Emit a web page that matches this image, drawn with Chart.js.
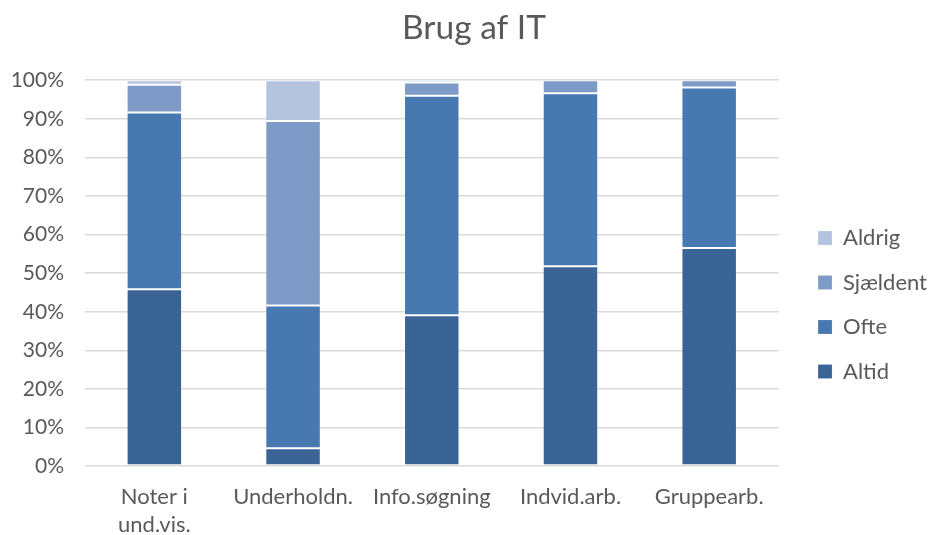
<!DOCTYPE html>
<html>
<head>
<meta charset="utf-8">
<script src="https://cdn.jsdelivr.net/npm/chart.js@4"></script>
<style>
  html, body { margin: 0; padding: 0; background: #fff; }
  #wrap { width: 929px; height: 535px; }
</style>
</head>
<body>
<div id="wrap"><canvas id="chart" width="929" height="535"></canvas></div>
<script>
const categories = [["Noter i", "und.vis."], "Underholdn.", "Info.søgning", "Indvid.arb.", "Gruppearb."];
const altid = [45.8, 4.6, 39.1, 51.8, 56.5];
const ofte = [45.8, 37.0, 56.9, 44.8, 41.6];
const sjaeldent = [7.2, 47.8, 3.4, 3.4, 1.9];
const aldrig = [1.2, 10.6, 0.6, 0, 0];

const textColor = "#595959";
const fontFamily = "Lato, 'Open Sans', sans-serif";

const mkSet = (label, data, color) => ({
  label,
  data,
  backgroundColor: color,
  borderColor: "rgba(255,255,255,0.15)",
  borderWidth: 1,
  borderSkipped: false,
  barPercentage: 0.4,
  categoryPercentage: 1,
});

new Chart(document.getElementById("chart"), {
  type: "bar",
  data: {
    labels: categories,
    datasets: [
      mkSet("Altid", altid, "#3b6496"),
      mkSet("Ofte", ofte, "#4878b0"),
      mkSet("Sjældent", sjaeldent, "#7e9bc8"),
      mkSet("Aldrig", aldrig, "#b4c4df"),
    ],
  },
  options: {
    responsive: false,
    animation: false,
    layout: { padding: { left: 11, right: -8, top: 8, bottom: -21 } },
    plugins: {
      title: {
        display: true,
        text: "Brug af IT",
        color: textColor,
        font: { family: fontFamily, size: 33.5, weight: "normal" },
        padding: { top: 0, bottom: 32 },
      },
      legend: {
        position: "right",
        reverse: true,
        // empty title only pushes the items down
        title: { display: true, text: "", font: { size: 10, lineHeight: 1.2 }, padding: { top: 33.5, bottom: 0 } },
        labels: {
          color: textColor,
          font: { family: fontFamily, size: 22 },
          boxWidth: 14,
          boxHeight: 14,
          padding: 22.5,
        },
      },
      tooltip: { enabled: false },
    },
    scales: {
      x: {
        stacked: true,
        grid: { display: false, drawTicks: false },
        border: { display: false },
        ticks: {
          color: textColor,
          font: { family: fontFamily, size: 22, lineHeight: 1.27 },
          padding: 17,
          maxRotation: 0,
        },
      },
      y: {
        stacked: true,
        min: 0,
        max: 100,
        border: { display: false },
        grid: { color: "#d9d9d9", lineWidth: 1.5, drawTicks: false },
        ticks: {
          stepSize: 10,
          color: textColor,
          font: { family: fontFamily, size: 21 },
          padding: 21,
          callback: (v) => v + "%",
        },
        afterFit: (s) => { s.width = 74; },
      },
      // blank spacer between plot and legend
      gap: {
        position: "right",
        min: 0,
        max: 1,
        grid: { display: false },
        border: { display: false },
        ticks: { display: false },
        afterFit: (s) => { s.width = 17; },
      },
    },
  },
});
</script>
</body>
</html>
